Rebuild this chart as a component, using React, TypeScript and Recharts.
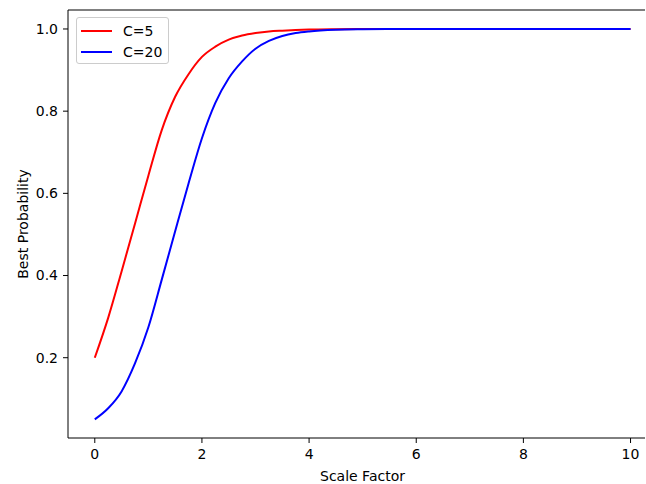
import { LineChart, Line, XAxis, YAxis, ReferenceLine } from "recharts";

// scale factor samples
const scale = [0, 0.25, 0.5, 0.75, 1, 1.25, 1.5, 1.75, 2, 2.25, 2.5, 2.75, 3, 3.25, 3.5, 3.75, 4, 4.5, 5, 5.5, 6, 7, 8, 9, 10];
// best probability, C=5
const c5 = [0.2, 0.297, 0.41, 0.526, 0.643, 0.754, 0.835, 0.89, 0.932, 0.957, 0.974, 0.984, 0.99, 0.994, 0.996, 0.9975, 0.9985, 0.9994, 0.9998, 1.0, 1.0, 1.0, 1.0, 1.0, 1.0];
// best probability, C=20
const c20 = [0.05, 0.077, 0.118, 0.186, 0.274, 0.39, 0.508, 0.624, 0.734, 0.82, 0.88, 0.921, 0.952, 0.971, 0.983, 0.99, 0.994, 0.998, 0.9993, 0.9998, 1.0, 1.0, 1.0, 1.0, 1.0];

const xTicks = [0, 2, 4, 6, 8, 10];
const yTicks = [0.2, 0.4, 0.6, 0.8, 1.0];
const yMax = 1.0462;

const data = scale.map((s, i) => ({ s, c5: c5[i], c20: c20[i] }));

const font = "'DejaVu Sans', sans-serif";
const tickStyle = { fill: "#000", fontSize: 14, fontFamily: font };

function LegendBox() {
  return (
    <div style={{
      position: "absolute", left: 76, top: 17, width: 93, height: 47, boxSizing: "border-box",
      border: "1px solid #cccccc", borderRadius: 3, background: "rgba(255,255,255,0.8)",
      fontFamily: font, fontSize: 14, color: "#000",
    }}>
      {[["C=5", "#ff0000"], ["C=20", "#0000ff"]].map(([name, col], i) => (
        <div key={name} style={{ position: "absolute", left: 4, top: 4 + i * 21.5, height: 17, display: "flex", alignItems: "center" }}>
          <div style={{ width: 31, height: 2, background: col }} />
          <span style={{ marginLeft: 11 }}>{name}</span>
        </div>
      ))}
    </div>
  );
}

export default function App() {
  return (
    <div style={{ position: "absolute", left: 0, top: 0, width: 646, height: 484, background: "#fff" }}>
      <LineChart width={646} height={484} data={data} margin={{ top: 10, right: 1, bottom: 0, left: 8 }}>
        <XAxis
          dataKey="s" type="number" domain={[-0.5, 10.27]} ticks={xTicks} allowDataOverflow
          height={46} tickSize={5} tickMargin={6} stroke="#000" tick={tickStyle}
          label={{
            content: (p: any) => (
              <text x={p.viewBox.x + p.viewBox.width / 2 + 6} y={480.5} textAnchor="middle" fill="#000" fontSize={14} fontFamily={font}>Scale Factor</text>
            ),
          }}
        />
        <YAxis
          type="number" domain={[0.0046, yMax]} ticks={yTicks} allowDataOverflow
          width={60} tickSize={5} tickMargin={5} stroke="#000" tick={tickStyle}
          tickFormatter={(v: number) => v.toFixed(1)}
          label={{
            content: (p: any) => {
              const cy = p.viewBox.y + p.viewBox.height / 2;
              return (
                <text x={27.5} y={cy} transform={`rotate(-90 27.5 ${cy})`} textAnchor="middle" fill="#000" fontSize={14} fontFamily={font}>Best Probability</text>
              );
            },
          }}
        />
        <ReferenceLine y={yMax} stroke="#000" strokeWidth={1} ifOverflow="extendDomain" />
        <Line type="monotone" dataKey="c5" stroke="#ff0000" strokeWidth={2} dot={false} isAnimationActive={false} />
        <Line type="monotone" dataKey="c20" stroke="#0000ff" strokeWidth={2} dot={false} isAnimationActive={false} />
      </LineChart>
      <LegendBox />
    </div>
  );
}
